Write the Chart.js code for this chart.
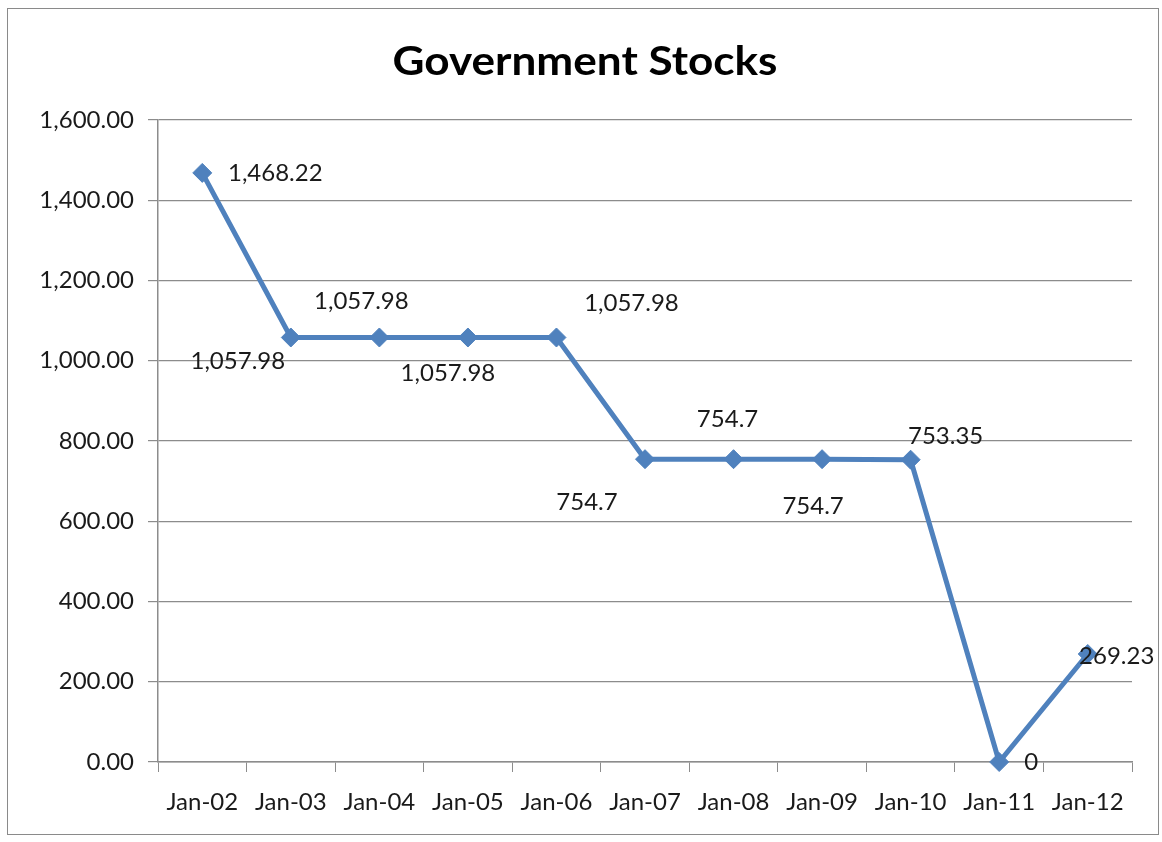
<!DOCTYPE html>
<html>
<head>
<meta charset="utf-8">
<title>Government Stocks</title>
<script src="https://cdn.jsdelivr.net/npm/chart.js@4.4.1/dist/chart.umd.min.js"></script>
<style>
    html, body { margin: 0; padding: 0; background: #fff; }
    #frame {
        position: absolute;
        left: 7px;
        top: 8px;
        width: 1152px;
        height: 827px;
        border: 1px solid #8a8a8a;
        box-sizing: border-box;
    }
    #chartBox { position: absolute; left: 0; top: 0; width: 1150px; height: 825px; }
</style>
</head>
<body>
<div id="frame">
    <div id="chartBox"><canvas id="stocksChart"></canvas></div>
</div>
<script>
// ----------------------------------------
// Data
// ----------------------------------------
const categories = ["Jan-02", "Jan-03", "Jan-04", "Jan-05", "Jan-06", "Jan-07",
    "Jan-08", "Jan-09", "Jan-10", "Jan-11", "Jan-12"];
const stockValues = [1468.22, 1057.98, 1057.98, 1057.98, 1057.98, 754.7,
    754.7, 754.7, 753.35, 0, 269.23];
const pointLabels = ["1,468.22", "1,057.98", "1,057.98", "1,057.98", "1,057.98", "754.7",
    "754.7", "754.7", "753.35", "0", "269.23"];
const chartTitle = "Government Stocks";

// label placement relative to each marker (px)
const labelOffsets = [
    [73, 0], [-53, 24], [-18, -36], [-20, 36], [75, -34], [-58, 43],
    [-6, -40], [-9, 47], [35, -23], [32, 0], [29, 2]
];

const FONT = "Lato, 'Open Sans', sans-serif";
const LINE_BLUE = "#4f81bd";
const GRID_GREY = "#8c8c8c";

// title drawn by hand so it can sit centred on the frame, like the original
const titlePlugin = {
    id: "frameTitle",
    afterDraw(chart) {
        const ctx = chart.ctx;
        ctx.save();
        ctx.font = "bold 40px " + FONT;
        ctx.fillStyle = "#000";
        ctx.textAlign = "center";
        ctx.textBaseline = "middle";
        const w = ctx.measureText(chartTitle).width;
        const target = 385;
        ctx.translate(577, 53);
        ctx.scale(target / w, 1);
        ctx.fillText(chartTitle, 0, 0);
        ctx.restore();
    }
};

// simple data label plugin
const pointLabelPlugin = {
    id: "pointLabels",
    afterDatasetsDraw(chart) {
        const ctx = chart.ctx;
        const meta = chart.getDatasetMeta(0);
        ctx.save();
        ctx.font = "24px " + FONT;
        ctx.fillStyle = "#1a1a1a";
        ctx.textAlign = "center";
        ctx.textBaseline = "middle";
        meta.data.forEach((pt, i) => {
            const off = labelOffsets[i] || [0, -20];
            ctx.fillText(pointLabels[i], pt.x + off[0], pt.y + off[1]);
        });
        ctx.restore();
    }
};

function formatTick(value) {
    return Number(value).toLocaleString("en-US", {
        minimumFractionDigits: 2,
        maximumFractionDigits: 2
    });
}

const canvas = document.getElementById("stocksChart");
new Chart(canvas, {
    type: "line",
    data: {
        labels: categories,
        datasets: [
            {
                label: chartTitle,
                data: stockValues,
                borderColor: LINE_BLUE,
                backgroundColor: LINE_BLUE,
                borderWidth: 5,
                pointStyle: "rectRot",
                pointRadius: 9.5,
                pointHoverRadius: 9.5,
                pointBackgroundColor: LINE_BLUE,
                pointBorderColor: LINE_BLUE,
                pointBorderWidth: 1,
                tension: 0,
                fill: false,
                clip: false
            }
        ]
    },
    options: {
        responsive: true,
        maintainAspectRatio: false,
        animation: false,
        layout: { padding: { left: 0, right: 26, top: 111, bottom: 0 } },
        plugins: {
            legend: { display: false },
            tooltip: { enabled: false },
            title: { display: false }
        },
        scales: {
            x: {
                offset: true,
                grid: {
                    offset: true,
                    drawOnChartArea: false,
                    drawTicks: true,
                    tickLength: 10,
                    color: GRID_GREY
                },
                border: { color: GRID_GREY, width: 1.5 },
                ticks: {
                    color: "#1a1a1a",
                    font: { family: FONT, size: 24 },
                    padding: 16,
                    maxRotation: 0,
                    autoSkip: false
                },
                afterFit(scale) { scale.height = 72; }
            },
            y: {
                min: 0,
                max: 1600,
                grid: {
                    color: GRID_GREY,
                    lineWidth: 1.2,
                    tickLength: 10
                },
                border: { color: GRID_GREY, width: 1.5 },
                ticks: {
                    stepSize: 200,
                    color: "#1a1a1a",
                    font: { family: FONT, size: 24 },
                    padding: 14,
                    callback: formatTick
                },
                afterFit(scale) { scale.width = 150; }
            }
        }
    },
    plugins: [pointLabelPlugin, titlePlugin]
});
</script>
</body>
</html>
